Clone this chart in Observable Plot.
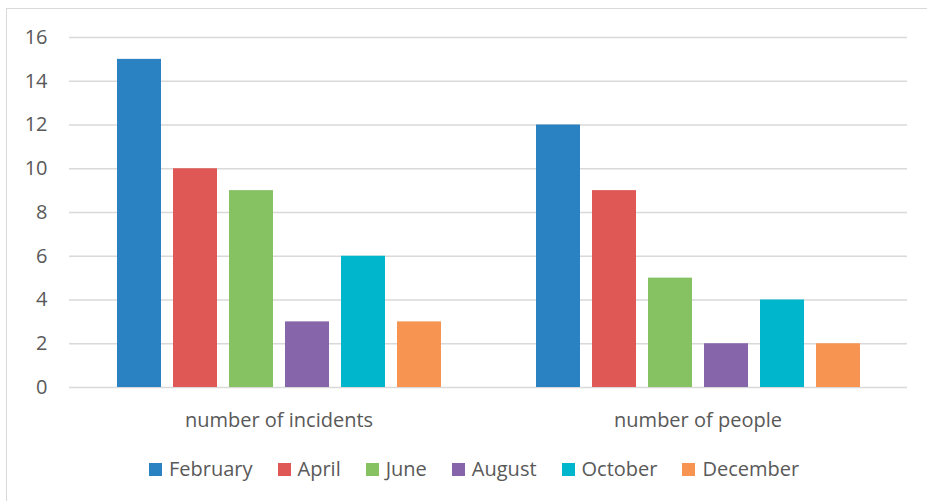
<!DOCTYPE html>
<html>
<head>
<meta charset="utf-8">
<script src="https://cdn.jsdelivr.net/npm/d3@7"></script>
<script src="https://cdn.jsdelivr.net/npm/@observablehq/plot@0.6"></script>
<style>
  body { margin: 0; background: #fff; }
  #wrap { position: relative; width: 927px; height: 501px; overflow: hidden; font-family: "Open Sans", sans-serif; }
  #frame { position: absolute; left: 6px; top: 8px; width: 1000px; height: 600px; border-left: 1.5px solid #d9d9d9; border-top: 1.5px solid #d9d9d9; }
  #chart { position: absolute; left: 0; top: 0; }
  #legend { position: absolute; left: 149px; top: 455px; display: flex; align-items: center; font-size: 20px; color: #595959; line-height: 28px; white-space: nowrap; }
  .item { display: flex; align-items: center; margin-right: 25px; }
  .sw { width: 13px; height: 13px; margin-right: 7px; }
</style>
</head>
<body>
<div id="wrap">
  <div id="frame"></div>
  <div id="chart"></div>
  <div id="legend"></div>
</div>
<script>
const groups = ["number of incidents", "number of people"];
const months = ["February", "April", "June", "August", "October", "December"];
const incidents = [15, 10, 9, 3, 6, 3];
const people = [12, 9, 5, 2, 4, 2];
const colors = ["#2A82C2", "#E05856", "#86C162", "#8665AA", "#00B6CC", "#F79452"];
const yTicks = [0, 2, 4, 6, 8, 10, 12, 14, 16];

const seriesByGroup = [incidents, people];
const data = [];
groups.forEach((g, gi) => months.forEach((m, mi) => data.push({group: g, month: m, value: seriesByGroup[gi][mi]})));

const plot = Plot.plot({
  width: 927,
  height: 445,
  marginTop: 37,
  marginBottom: 58,
  marginLeft: 69,
  marginRight: 20,
  style: { fontFamily: "Open Sans, sans-serif", fontSize: "20px", color: "#595959", background: "transparent" },
  fx: { domain: groups, padding: 0, axis: "bottom", tickSize: 0, tickPadding: 25, label: null },
  x: { domain: months, paddingInner: 0.22, paddingOuter: 0.85, axis: null },
  y: { domain: [0, 16], ticks: yTicks, tickSize: 0, tickPadding: 22, label: null },
  color: { domain: months, range: colors },
  marks: [
    Plot.ruleY(yTicks, { stroke: "#d9d9d9", strokeWidth: 1.5 }),
    Plot.barY(data, { fx: "group", x: "month", y: "value", fill: "month" })
  ]
});
document.getElementById("chart").appendChild(plot);

const legend = document.getElementById("legend");
months.forEach((m, i) => {
  const item = document.createElement("div");
  item.className = "item";
  const sw = document.createElement("div");
  sw.className = "sw";
  sw.style.background = colors[i];
  const t = document.createElement("span");
  t.textContent = m;
  item.appendChild(sw);
  item.appendChild(t);
  legend.appendChild(item);
});
</script>
</body>
</html>
